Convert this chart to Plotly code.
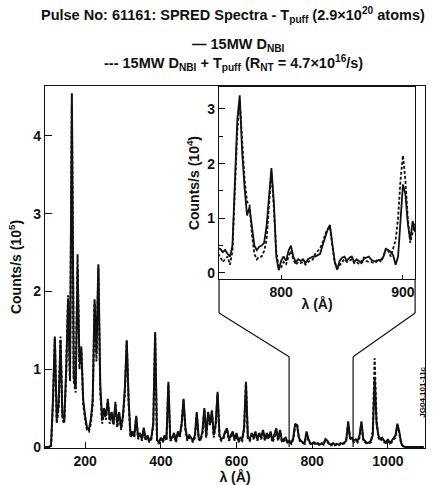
import numpy as np
import plotly.graph_objects as go

# ---------------- data ----------------
wl_main = np.arange(95, 1100, 5)  # wavelength grid (Å)
solid_main = [
    0, 0, 0, 0.02, 0.6, 1.42, 0.35, 0.55, 1.38, 0.4,          # 95-140
    0.35, 1.0, 1.9, 0.9, 4.55, 0.9, 0.75, 2.3, 1.1, 1.25,      # 145-190
    0.6, 0.4, 0.25, 0.22, 0.35, 0.6, 1.9, 1.2, 2.35, 0.8,      # 195-240
    0.35, 0.5, 0.4, 0.6, 0.35, 0.45, 0.3, 0.55, 0.3, 0.45,     # 245-290
    0.25, 0.4, 0.75, 1.37, 0.6, 0.15, 0.2, 0.15, 0.4, 0.12,    # 295-340
    0.18, 0.1, 0.25, 0.1, 0.15, 0.08, 0.12, 0.3, 1.48, 0.1,    # 345-390
    0.05, 0.12, 0.08, 0.15, 0.1, 0.84, 0.1, 0.12, 0.18, 0.08,  # 395-440
    0.2, 0.15, 0.3, 0.62, 0.25, 0.1, 0.15, 0.12, 0.08, 0.15,   # 445-490
    0.45, 0.12, 0.1, 0.2, 0.5, 0.15, 0.45, 0.3, 0.47, 0.15,    # 495-540
    0.3, 0.71, 0.15, 0.1, 0.12, 0.2, 0.24, 0.1, 0.15, 0.2,     # 545-590
    0.1, 0.18, 0.08, 0.12, 0.1, 0.25, 0.83, 0.12, 0.1, 0.18,   # 595-640
    0.12, 0.2, 0.1, 0.18, 0.12, 0.22, 0.1, 0.18, 0.12, 0.2,    # 645-690
    0.08, 0.15, 0.24, 0.1, 0.22, 0.08, 0.1, 0.12, 0.06, 0.08,  # 695-740
    0.05, 0.12, 0.3, 0.28, 0.12, 0.08, 0.06, 0.05, 0.2, 0.1,   # 745-790
    0.05, 0.04, 0.06, 0.04, 0.05, 0.03, 0.05, 0.04, 0.1, 0.08, # 795-840
    0.04, 0.03, 0.05, 0.03, 0.04, 0.03, 0.05, 0.04, 0.06, 0.08,# 845-890
    0.33, 0.1, 0.12, 0.08, 0.1, 0.08, 0.15, 0.33, 0.1, 0.08,   # 895-940
    0.05, 0.06, 0.08, 0.15, 0.9, 0.3, 0.15, 0.1, 0.12, 0.08,   # 945-990
    0.06, 0.1, 0.05, 0.08, 0.12, 0.15, 0.3, 0.2, 0.05, 0.01,   # 995-1040
    0, 0, 0, 0, 0, 0, 0, 0, 0, 0, 0                            # 1045-1095
]
dashed_main = [
    0, 0, 0, 0.02, 0.55, 1.4, 0.3, 0.5, 1.42, 0.35,
    0.3, 0.95, 1.95, 0.85, 4.4, 0.85, 0.7, 2.48, 1.0, 1.3,
    0.55, 0.35, 0.22, 0.2, 0.3, 0.55, 1.85, 1.1, 2.3, 0.7,
    0.3, 0.45, 0.35, 0.62, 0.3, 0.4, 0.28, 0.58, 0.25, 0.42,
    0.22, 0.38, 0.7, 1.37, 0.55, 0.12, 0.18, 0.12, 0.38, 0.1,
    0.15, 0.08, 0.22, 0.08, 0.12, 0.06, 0.1, 0.28, 1.45, 0.08,
    0.04, 0.1, 0.06, 0.12, 0.08, 0.8, 0.08, 0.1, 0.15, 0.06,
    0.18, 0.12, 0.28, 0.6, 0.22, 0.08, 0.12, 0.1, 0.06, 0.12,
    0.42, 0.1, 0.08, 0.18, 0.48, 0.12, 0.42, 0.28, 0.45, 0.12,
    0.28, 0.68, 0.12, 0.08, 0.1, 0.18, 0.22, 0.08, 0.12, 0.18,
    0.08, 0.15, 0.06, 0.1, 0.08, 0.22, 0.84, 0.1, 0.08, 0.15,
    0.1, 0.18, 0.08, 0.15, 0.1, 0.2, 0.08, 0.15, 0.1, 0.18,
    0.06, 0.12, 0.22, 0.08, 0.2, 0.06, 0.08, 0.1, 0.05, 0.06,
    0.04, 0.1, 0.28, 0.3, 0.1, 0.06, 0.05, 0.04, 0.19, 0.08,
    0.04, 0.03, 0.05, 0.03, 0.04, 0.02, 0.04, 0.03, 0.09, 0.07,
    0.03, 0.02, 0.04, 0.02, 0.03, 0.02, 0.04, 0.03, 0.05, 0.1,
    0.3, 0.12, 0.1, 0.06, 0.08, 0.06, 0.12, 0.3, 0.08, 0.06,
    0.04, 0.05, 0.06, 0.2, 1.14, 0.35, 0.12, 0.08, 0.1, 0.06,
    0.05, 0.08, 0.04, 0.06, 0.1, 0.12, 0.28, 0.18, 0.04, 0.01,
    0, 0, 0, 0, 0, 0, 0, 0, 0, 0, 0
]

wl_inset = np.arange(748, 911, 2)  # inset wavelength grid (Å)
solid_inset = [
    0.45, 0.44, 0.38, 0.42, 0.35, 0.3, 0.5, 1.6, 2.8, 3.25,    # 748-766
    2.2, 1.55, 1.05, 1.2, 0.8, 0.5, 0.42, 0.48, 0.5, 0.55,     # 768-786
    0.85, 1.45, 1.92, 1.3, 0.3, 0.05, 0.22, 0.3, 0.22, 0.4,    # 788-806
    0.5, 0.3, 0.2, 0.25, 0.22, 0.25, 0.18, 0.25, 0.28, 0.3,    # 808-826
    0.3, 0.32, 0.35, 0.5, 0.65, 0.78, 0.88, 0.55, 0.2, 0.06,   # 828-846
    0.22, 0.28, 0.3, 0.22, 0.28, 0.3, 0.2, 0.25, 0.22, 0.18,   # 848-866
    0.26, 0.28, 0.3, 0.24, 0.22, 0.2, 0.24, 0.24, 0.3, 0.44,   # 868-886
    0.42, 0.38, 0.32, 0.15, 0.3, 1.0, 1.62, 1.45, 0.9, 0.6,    # 888-906
    0.95, 0.75                                                 # 908-910
]
dashed_inset = [
    0.35, 0.3, 0.2, 0.25, 0.3, 0.15, 0.4, 1.5, 2.6, 3.15,
    2.4, 1.7, 1.3, 1.25, 0.7, 0.35, 0.25, 0.3, 0.3, 0.4,
    0.6, 1.3, 1.85, 1.2, 0.4, 0.1, 0.1, 0.2, 0.15, 0.3,
    0.4, 0.25, 0.15, 0.2, 0.18, 0.2, 0.15, 0.2, 0.22, 0.25,
    0.35, 0.4, 0.45, 0.55, 0.7, 0.8, 0.85, 0.5, 0.2, 0.08,
    0.15, 0.2, 0.25, 0.2, 0.22, 0.25, 0.18, 0.2, 0.16, 0.22,
    0.28, 0.22, 0.2, 0.2, 0.18, 0.22, 0.25, 0.2, 0.3, 0.45,
    0.4, 0.3, 0.45, 0.6, 1.0, 1.7, 2.15, 1.7, 1.0, 0.55,
    0.75, 0.9
]

main_yticks = [0, 1, 2, 3, 4]
main_xticks = [200, 400, 600, 800, 1000]
inset_yticks = [0, 1, 2, 3]
inset_xticks = [800, 900]

# ---------------- layout geometry ----------------
W, H = 434, 485
ml, mr, mt, mb = 45, 9, 86, 37
xr = [94, 1098]
yr = [-0.013, 4.643]
in_xdom = [0.458, 0.974]
in_ydom = [0.467, 0.997]
in_xr = [749, 910]
in_yr = [-0.11, 3.4]
frame_bottom = 0.373      # paper y where inset frame turns into the funnel
funnel_x = [739, 908]     # data x of funnel verticals
funnel_y = 1.16           # data y where funnel diagonals meet verticals

FONT = "Liberation Sans, Arial, sans-serif"
BLK = "#111111"

fig = go.Figure()
fig.add_trace(go.Scatter(x=wl_main, y=dashed_main, mode="lines",
                         line=dict(color=BLK, width=2, dash="3px,2px"),
                         xaxis="x", yaxis="y", showlegend=False))
fig.add_trace(go.Scatter(x=wl_main, y=solid_main, mode="lines",
                         line=dict(color=BLK, width=2),
                         xaxis="x", yaxis="y", showlegend=False))
fig.add_trace(go.Scatter(x=wl_inset, y=dashed_inset, mode="lines",
                         line=dict(color=BLK, width=1.8, dash="3px,2px"),
                         xaxis="x2", yaxis="y2", showlegend=False))
fig.add_trace(go.Scatter(x=wl_inset, y=solid_inset, mode="lines",
                         line=dict(color=BLK, width=1.8),
                         xaxis="x2", yaxis="y2", showlegend=False))

tickfont = dict(family=FONT, size=14, color=BLK, weight="bold")
textfont = dict(family=FONT, size=14.5, color=BLK, weight="bold")

def px2data_x(p):
    return xr[0] + p * (xr[1] - xr[0])

def py2data_y(p):
    return yr[0] + p * (yr[1] - yr[0])

shapes = []
lc = dict(color=BLK, width=1.2)
# inset frame extensions below the inset axis
for xp in in_xdom:
    shapes.append(dict(type="line", xref="paper", yref="paper",
                       x0=xp, x1=xp, y0=in_ydom[0], y1=frame_bottom, line=lc))
# funnel diagonals + verticals (main data coordinates)
for xp, fx in zip(in_xdom, funnel_x):
    shapes.append(dict(type="line", xref="x", yref="y",
                       x0=px2data_x(xp), y0=py2data_y(frame_bottom),
                       x1=fx, y1=funnel_y, line=lc))
    shapes.append(dict(type="line", xref="x", yref="y",
                       x0=fx, y0=funnel_y, x1=fx, y1=0, line=lc))

annotations = [
    dict(text="Pulse No: 61161: SPRED Spectra - T<sub>puff</sub> (2.9×10<sup>20</sup> atoms)",
         xref="paper", yref="paper", x=0.495, y=1.196, yanchor="middle",
         xanchor="center", showarrow=False, font=textfont),
    dict(text="— 15MW D<sub>NBI</sub>",
         xref="paper", yref="paper", x=0.51, y=1.113, yanchor="middle",
         xanchor="center", showarrow=False, font=textfont),
    dict(text="--- 15MW D<sub>NBI</sub> + T<sub>puff</sub> (R<sub>NT</sub> = 4.7×10<sup>16</sup>/s)",
         xref="paper", yref="paper", x=0.495, y=1.064, yanchor="middle",
         xanchor="center", showarrow=False, font=textfont),
    dict(text="JG04.101-11c", xref="paper", yref="paper", x=1.012, y=0.077,
         textangle=-90, showarrow=False,
         font=dict(family=FONT, size=8, color=BLK, weight="bold")),
]

fig.update_layout(
    width=W, height=H,
    margin=dict(l=ml, r=mr, t=mt, b=mb, pad=0, autoexpand=False),
    paper_bgcolor="white", plot_bgcolor="white",
    font=dict(family=FONT, color=BLK),
    xaxis=dict(range=xr, tickvals=main_xticks, ticks="inside", ticklen=6,
               tickcolor=BLK, showline=True, linecolor=BLK, linewidth=1.4,
               mirror=True, showgrid=False, zeroline=False, automargin=False,
               tickfont=tickfont,
               title=dict(text="λ (Å)", font=tickfont, standoff=0)),
    yaxis=dict(range=yr, tickvals=main_yticks, ticks="inside", ticklen=7,
               tickcolor=BLK, showline=True, linecolor=BLK, linewidth=1.4,
               mirror=True, showgrid=False, zeroline=False, automargin=False,
               tickfont=tickfont,
               title=dict(text="Counts/s (10<sup>5</sup>)", font=tickfont, standoff=8)),
    xaxis2=dict(domain=in_xdom, anchor="y2", range=in_xr, tickvals=inset_xticks,
                ticks="inside", ticklen=4, tickcolor=BLK,
                showline=True, linecolor=BLK, linewidth=1.2, mirror=True,
                showgrid=False, zeroline=False, tickfont=tickfont,
                title=dict(text="λ (Å)", font=tickfont, standoff=0)),
    yaxis2=dict(domain=in_ydom, anchor="x2", range=in_yr, tickvals=inset_yticks,
                ticks="inside", ticklen=6, tickcolor=BLK,
                minor=dict(dtick=0.5, ticks="inside", ticklen=4, tickcolor=BLK),
                showline=True, linecolor=BLK, linewidth=1.2, mirror=True,
                showgrid=False, zeroline=False, tickfont=tickfont,
                title=dict(text="Counts/s (10<sup>4</sup>)", font=tickfont, standoff=4)),
    shapes=shapes,
    annotations=annotations,
)

fig.write_html("out.html", config={"displayModeBar": False},
               post_script="document.body.style.margin='0';")
